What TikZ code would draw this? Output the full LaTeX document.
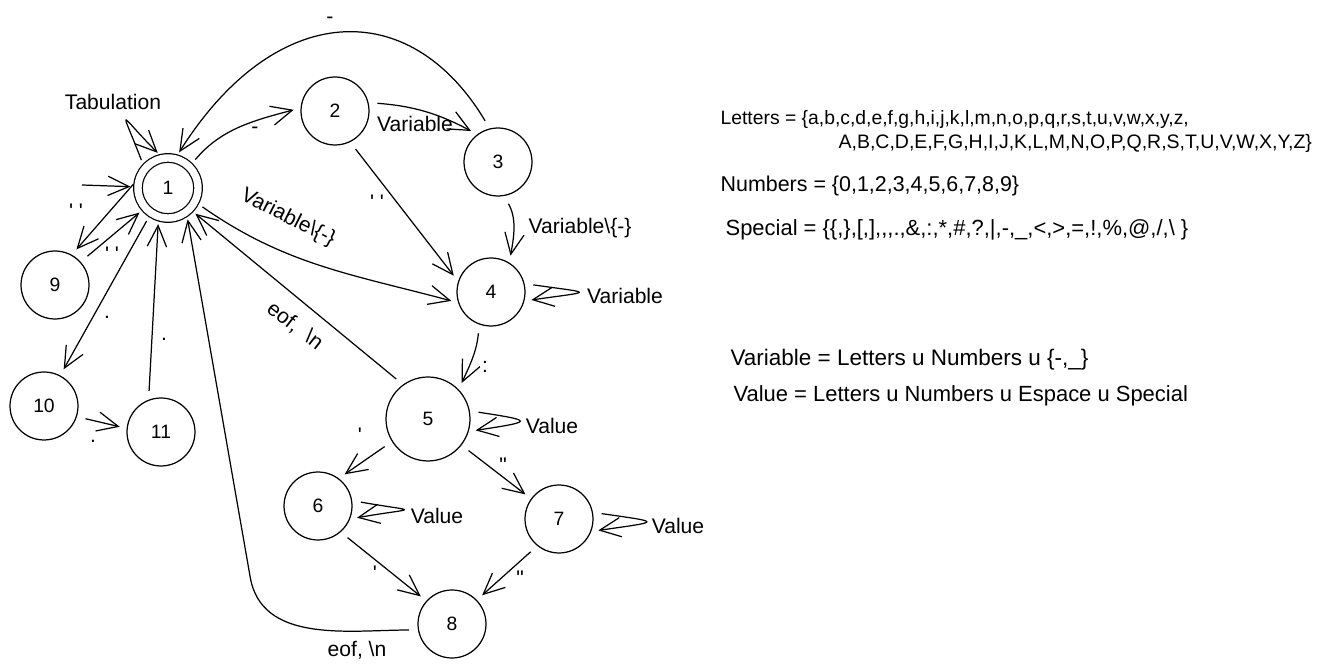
\documentclass[tikz,border=0pt]{standalone}
\usepackage{fontspec}
\newfontfamily\handfont{Liberation Sans}
\usetikzlibrary{arrows.meta}
\begin{document}
\begin{tikzpicture}[x=0.02cm,y=0.02cm,line width=0.7pt,
  state/.style={draw,circle,minimum size=1.36cm,inner sep=0pt,font=\handfont\fontsize{11}{13}\selectfont},
  accepting/.style={state,double,double distance=4.2pt,minimum size=1.2cm},
  arr/.style={-{Straight Barb[length=12pt,width=11pt]},shorten <=5pt,shorten >=4pt},
  lbl/.style={font=\handfont\fontsize{12}{14}\selectfont,inner sep=0pt},
  setline/.style={font=\handfont\fontsize{12.5}{14}\selectfont,anchor=base west,inner sep=0pt}]
\useasboundingbox (0,0) rectangle (1338,-671);
\node[accepting] (n1) at (168,-188) {1};
\node[state] (n2) at (335,-111) {2};
\node[state] (n3) at (498,-162) {3};
\node[state] (n4) at (491,-292) {4};
\node[state,minimum size=1.68cm] (n5) at (428,-419) {5};
\node[state] (n6) at (318,-506) {6};
\node[state] (n7) at (559,-519) {7};
\node[state] (n8) at (452,-624) {8};
\node[state] (n9) at (55,-285) {9};
\node[state] (n10) at (44,-406) {10};
\node[state] (n11) at (161,-432) {11};
\coordinate (st) at (82,-185);
\coordinate (bk) at (250,-576);
\draw[arr,shorten <=0pt] (st) -- (n1);
\draw[arr] (n1.140) .. controls +(-25,65) and +(-45,45) .. (n1.100);
\draw[arr] (n1.45) to[out=50,in=195] (n2.175);
\draw[arr] (n2.14) to[bend left=12] (n3.127);
\draw[arr] (n3.104) .. controls (410,5) and (275,0) .. (n1.76);
\draw[arr] (n2.-64) -- (n4.162);
\draw[arr] (n3.-80) to[out=-60,in=80] (n4.58);
\draw[arr] (n1.-27) to[out=-35,in=165] (n4.198);
\draw[arr] (n4.14) .. controls +(70,-10) and +(70,10) .. (n4.-15);
\draw[arr] (n4.-110) to[out=-95,in=65] (n5.44);
\draw[arr] (n5.126) -- (n1.-44);
\draw[arr] (n5.11) .. controls +(65,-10) and +(65,10) .. (n5.-17);
\draw[arr] (n5.-148) -- (n6.53);
\draw[arr] (n5.-38) -- (n7.144);
\draw[arr] (n6.9) .. controls +(68,-12) and +(68,12) .. (n6.-22);
\draw[arr] (n7.11) .. controls +(70,-10) and +(70,10) .. (n7.-21);
\draw[arr] (n6.-49) -- (n8.138);
\draw[arr] (n7.-129) -- (n8.44);
\draw[arr] (n8.190) to[out=180,in=-81] (bk) -- (n1.-53);
\draw[arr] (n1.160) -- (n9.61);
\draw[arr] (n9.42) -- (n1.-139);
\draw[arr] (n1.-124) -- (n10.62);
\draw[arr] (n10.-18) -- (n11.174);
\draw[arr] (n11.111) -- (n1.-108);
\node[lbl] (lTab) at (113,-102) {Tabulation};
\node[lbl] (l12) at (255,-130) {-};
\node[lbl] (l31) at (330,-20) {-};
\node[lbl] (l23) at (415,-124) {Variable};
\node[lbl] (l24) at (377,-202) {' '};
\node[lbl] (l34) at (580,-228) {Variable\textbackslash\{-\}};
\node[lbl,rotate=-27] (l14) at (288,-218) {Variable\textbackslash\{-\}};
\node[lbl] (l44) at (625,-296) {Variable};
\node[lbl] (l45) at (485,-367) {:};
\node[lbl,rotate=-38] (l51) at (295,-326) {eof,\ \ \textbackslash n};
\node[lbl] (l55) at (552,-426) {Value};
\node[lbl] (l56) at (360,-435) {'};
\node[lbl] (l57) at (503,-465) {"};
\node[lbl] (l66) at (437,-516) {Value};
\node[lbl] (l77) at (678,-526) {Value};
\node[lbl] (l68) at (375,-573) {'};
\node[lbl] (l78) at (520,-578) {"};
\node[lbl] (l81) at (357,-650) {eof, \textbackslash n};
\node[lbl] (l19) at (76,-211) {' '};
\node[lbl] (l91) at (112,-254) {' '};
\node[lbl] (l110) at (107,-317) {.};
\node[lbl] (l1011) at (93,-441) {.};
\node[lbl] (l111) at (164,-339) {.};
\node[setline,font=\handfont\fontsize{11}{13}\selectfont] (letters) at (720,-125) {Letters = \{a,b,c,d,e,f,g,h,i,j,k,l,m,n,o,p,q,r,s,t,u,v,w,x,y,z,};
\node[setline,font=\handfont\fontsize{11.1}{13}\selectfont] (capitals) at (838,-149) {A,B,C,D,E,F,G,H,I,J,K,L,M,N,O,P,Q,R,S,T,U,V,W,X,Y,Z\}};
\node[setline,font=\handfont\fontsize{12.2}{14}\selectfont] (numbers) at (720,-192) {Numbers = \{0,1,2,3,4,5,6,7,8,9\}};
\node[setline] (special) at (725,-236) {Special = \{\{,\},[,],,,.,\&,:,*,\#,?,|,-,\_,<,>,=,!,\%,@,/,\textbackslash\ \}};
\node[setline,font=\handfont\fontsize{12.8}{14}\selectfont] (variable) at (730,-366) {Variable = Letters u Numbers u \{-,\_\}};
\node[setline] (value) at (733,-402) {Value = Letters u Numbers u Espace u Special};
\end{tikzpicture}
\end{document}
